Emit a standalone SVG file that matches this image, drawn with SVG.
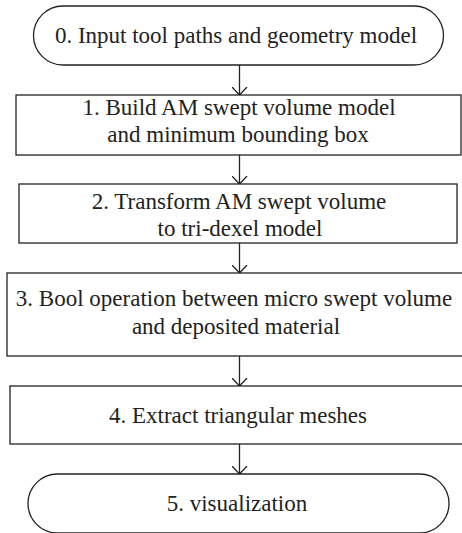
<svg xmlns="http://www.w3.org/2000/svg" width="462" height="533" viewBox="0 0 462 533">
  <style>
    .box { fill: #ffffff; stroke: #222222; stroke-width: 1.3; }
    .lbl { font-family: "Liberation Serif", "Times New Roman", serif; font-size: 23px; fill: #222222; text-anchor: middle; }
    .conn { stroke: #222222; stroke-width: 1.3; fill: none; }
  </style>
  <defs>
    <marker id="arrow" viewBox="0 0 9 16" refX="8.5" refY="8" markerWidth="9" markerHeight="16" markerUnits="userSpaceOnUse" orient="auto">
      <path d="M0.5,0.5 L8.5,8 L0.5,15.5" fill="none" stroke="#222222" stroke-width="1.3"/>
    </marker>
  </defs>
  <rect width="462" height="533" fill="#ffffff"/>

  <g id="connectors">
    <line class="conn" x1="239.5" y1="65" x2="239.5" y2="95" marker-end="url(#arrow)"/>
    <line class="conn" x1="239.5" y1="155" x2="239.5" y2="184" marker-end="url(#arrow)"/>
    <line class="conn" x1="239.5" y1="243" x2="239.5" y2="273" marker-end="url(#arrow)"/>
    <line class="conn" x1="239.5" y1="356" x2="239.5" y2="386" marker-end="url(#arrow)"/>
    <line class="conn" x1="239.5" y1="444" x2="239.5" y2="474" marker-end="url(#arrow)"/>
  </g>

  <g id="node0">
    <rect class="box" x="33.5" y="6" width="410" height="59" rx="29.5" ry="29.5"/>
    <text class="lbl" x="236" y="43">0. Input tool paths and geometry model</text>
  </g>

  <g id="node1">
    <rect class="box" x="16" y="95" width="445" height="60"/>
    <text class="lbl" x="239" y="115">1. Build AM swept volume  model</text>
    <text class="lbl" x="238" y="142">and minimum bounding box</text>
  </g>

  <g id="node2">
    <rect class="box" x="19" y="184" width="438" height="59"/>
    <text class="lbl" x="239" y="209">2. Transform AM swept volume</text>
    <text class="lbl" x="240" y="236">to tri-dexel model</text>
  </g>

  <g id="node3">
    <rect class="box" x="7" y="273" width="464" height="83"/>
    <text class="lbl" x="234" y="306">3. Bool operation between micro swept volume</text>
    <text class="lbl" x="236" y="334">and  deposited material</text>
  </g>

  <g id="node4">
    <rect class="box" x="10" y="386" width="461" height="58"/>
    <text class="lbl" x="238" y="423">4. Extract triangular meshes</text>
  </g>

  <g id="node5">
    <rect class="box" x="28" y="474" width="421" height="59" rx="29.5" ry="29.5"/>
    <text class="lbl" x="237" y="511">5. visualization</text>
  </g>
</svg>
